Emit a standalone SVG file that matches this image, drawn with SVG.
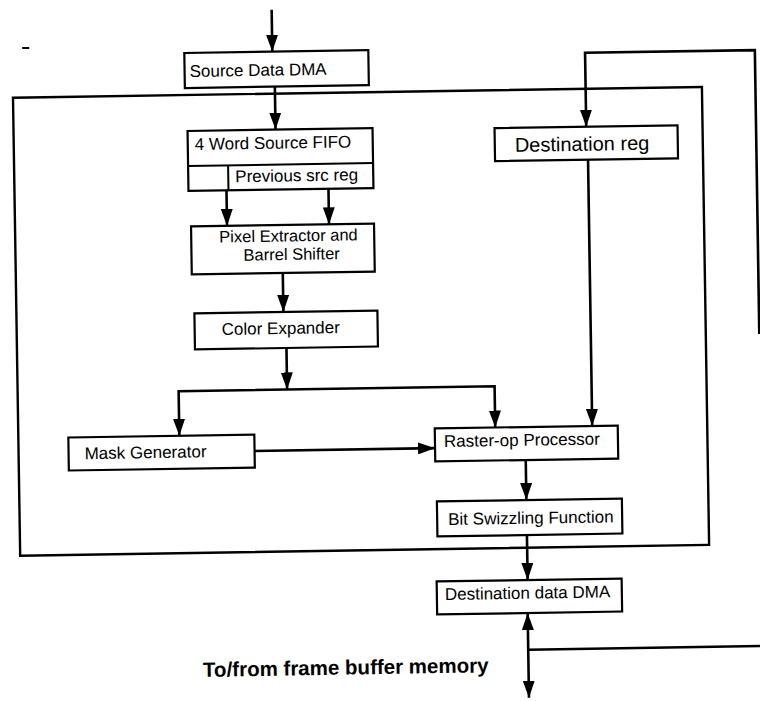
<svg xmlns="http://www.w3.org/2000/svg" width="760" height="701" viewBox="0 0 760 701">
<style>
.box{fill:#fff;stroke:#000;stroke-width:2.2}
.frame{fill:none;stroke:#000;stroke-width:2.4}
.ln{fill:none;stroke:#000;stroke-width:2.6}
.t{font-family:"Liberation Sans",Arial,sans-serif;font-size:17px;fill:#000}
.ts{font-family:"Liberation Sans",Arial,sans-serif;font-size:16.5px;fill:#000}
.tb{font-family:"Liberation Sans",Arial,sans-serif;font-size:20px;fill:#000}
.tbold{font-family:"Liberation Sans",Arial,sans-serif;font-size:20.5px;font-weight:bold;fill:#000}
</style>
<defs>
<marker id="ah" markerWidth="17" markerHeight="12" refX="17" refY="6" orient="auto-start-reverse" markerUnits="userSpaceOnUse">
<path d="M0,0 L17,6 L0,12 z" fill="#000"/>
</marker>
</defs>
<rect x="0" y="0" width="760" height="701" fill="#fff"/>
<g transform="rotate(-0.9 380 350)">
<g id="frame">
<rect class="frame" x="17" y="92" width="689" height="458"/>
</g>
<line x1="27" y1="42.5" x2="34" y2="42.5" stroke="#000" stroke-width="2"/>
<g id="connectors">
<line class="ln" x1="277" y1="8" x2="277" y2="50" marker-end="url(#ah)"/>
<line class="ln" x1="279" y1="85" x2="279" y2="128" marker-end="url(#ah)"/>
<line class="ln" x1="229" y1="188" x2="229" y2="223.5" marker-end="url(#ah)"/>
<line class="ln" x1="331" y1="188" x2="331" y2="223.5" marker-end="url(#ah)"/>
<line class="ln" x1="284" y1="271.5" x2="284" y2="310.5" marker-end="url(#ah)"/>
<line class="ln" x1="286.5" y1="346.5" x2="286.5" y2="388" marker-end="url(#ah)"/>
<polyline class="ln" points="178,432.6 178,388 494,388 494,429.3" marker-start="url(#ah)" marker-end="url(#ah)"/>
<line class="ln" x1="253" y1="449" x2="433.5" y2="449" marker-end="url(#ah)"/>
<polyline class="ln" points="759.5,340 759.5,56 589.7,56 589.7,130" marker-end="url(#ah)"/>
<line class="ln" x1="591" y1="163" x2="591" y2="429.3" marker-end="url(#ah)"/>
<line class="ln" x1="524" y1="462.3" x2="524" y2="502.3" marker-end="url(#ah)"/>
<line class="ln" x1="524" y1="537.3" x2="524" y2="582.3" marker-end="url(#ah)"/>
<line class="ln" x1="523.5" y1="615.3" x2="523.5" y2="700" marker-start="url(#ah)" marker-end="url(#ah)"/>
<line class="ln" x1="523.5" y1="652" x2="775" y2="652"/>
</g>
<g id="source-dma">
<rect class="box" x="189" y="50" width="184" height="35"/>
<text class="t" x="194" y="74">Source Data DMA</text>
</g>
<g id="source-fifo">
<rect class="box" x="191" y="128" width="185" height="60"/>
<line x1="191" y1="163" x2="376" y2="163" stroke="#000" stroke-width="2"/>
<line x1="231" y1="163" x2="231" y2="188" stroke="#000" stroke-width="2"/>
<text class="t" x="198" y="147">4 Word Source FIFO</text>
<text class="t" x="238" y="180">Previous src reg</text>
</g>
<g id="pixel-extractor">
<rect class="box" x="193" y="223.5" width="183" height="48"/>
<text class="ts" x="221" y="240">Pixel Extractor and</text>
<text class="ts" x="245" y="258.5">Barrel Shifter</text>
</g>
<g id="color-expander">
<rect class="box" x="195" y="310.5" width="183" height="36"/>
<text class="t" x="222" y="332.5">Color Expander</text>
</g>
<g id="mask-generator">
<rect class="box" x="67" y="432.6" width="186" height="33"/>
<text class="t" x="83" y="454.5">Mask Generator</text>
</g>
<g id="raster-op">
<rect class="box" x="433.5" y="429.3" width="183" height="33"/>
<text class="t" x="442.5" y="448">Raster-op Processor</text>
</g>
<g id="destination-reg">
<rect class="box" x="498" y="130" width="183" height="33"/>
<text class="tb" x="518" y="154">Destination reg</text>
</g>
<g id="bit-swizzling">
<rect class="box" x="434.5" y="502.3" width="185" height="35"/>
<text class="t" x="445.5" y="526">Bit Swizzling Function</text>
</g>
<g id="destination-dma">
<rect class="box" x="433" y="582.3" width="185" height="33"/>
<text class="t" x="441" y="601">Destination data DMA</text>
</g>
<g id="label">
<text class="tbold" x="198" y="674">To/from frame buffer memory</text>
</g>
</g>
</svg>
